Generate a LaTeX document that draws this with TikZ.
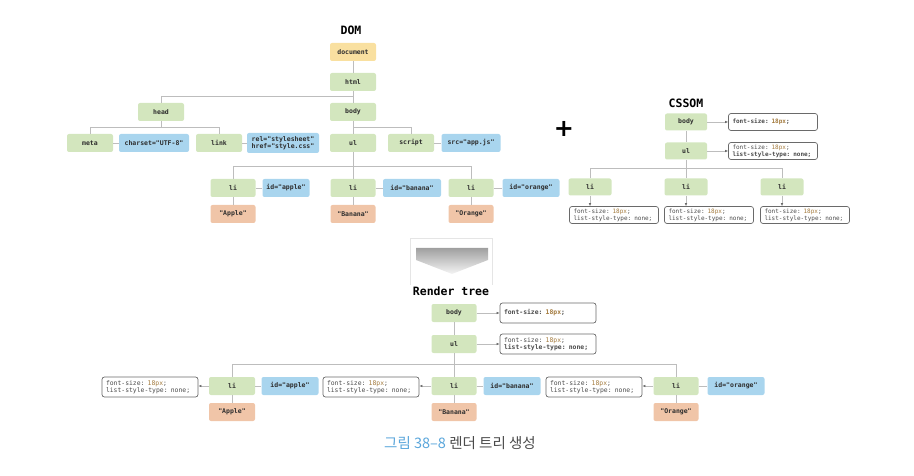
\documentclass[tikz,border=0pt]{standalone}
\usepackage{fontspec}
\setmonofont{DejaVu Sans Mono}
\newfontfamily\krfont{Noto Sans CJK KR}
\newfontfamily\plusfont{DejaVu Sans}
\usetikzlibrary{arrows.meta,calc}
\definecolor{elgreen}{HTML}{D3E6BE}
\definecolor{docyellow}{HTML}{F9E0A0}
\definecolor{attrblue}{HTML}{A9D5EE}
\definecolor{txtorange}{HTML}{F0C5A8}
\definecolor{linegray}{HTML}{BDBDBD}
\definecolor{boxborder}{HTML}{6A6A6A}
\definecolor{pxbrown}{HTML}{A47B3E}
\definecolor{nodetext}{HTML}{2E2E2E}
\definecolor{captblue}{HTML}{5AA6DB}
\definecolor{captgray}{HTML}{4A4A4A}
\newcommand\pxv[1]{{\color{pxbrown}#1}}
\tikzset{
  base/.style={rounded corners=2pt, inner sep=0pt, minimum height=18pt, text=nodetext,
    font=\ttfamily\bfseries\fontsize{6.5}{7.5}\selectfont, align=center},
  el/.style={base, fill=elgreen, minimum width=46pt},
  docnode/.style={base, fill=docyellow, minimum width=46pt},
  attr/.style={base, fill=attrblue},
  txt/.style={base, fill=txtorange, minimum width=46pt},
  title/.style={font=\ttfamily\bfseries\fontsize{11.5}{12}\selectfont, text=black, inner sep=0pt},
  sbox/.style={draw=boxborder, line width=0.7pt, rounded corners=2.5pt, fill=white,
    align=left, inner xsep=4pt, inner ysep=0pt, text=captgray},
  cbox/.style={sbox, text width=81pt, minimum height=17pt, font=\ttfamily\fontsize{6}{6.8}\selectfont},
  rbox/.style={sbox, text width=88pt, minimum height=20pt, font=\ttfamily\fontsize{6.4}{7.3}\selectfont},
  tline/.style={draw=linegray, line width=0.8pt},
  arr/.style={draw=linegray, line width=0.8pt, -{Latex[length=3pt,width=2.6pt,color=boxborder]}},
}
\begin{document}
\begin{tikzpicture}[x=1pt,y=-1pt]
\useasboundingbox (0,0) rectangle (914,476);

% ---------- DOM ----------
\node[title] (domtitle) at (351,30) {DOM};
\node[docnode] (doc) at (353,52) {document};
\node[el] (html) at (353,82) {html};
\node[el] (head) at (161,112) {head};
\node[el] (body) at (353,112) {body};
\node[el] (meta) at (90,143) {meta};
\node[attr, minimum width=70pt] (charset) at (154,143) {charset="UTF-8"};
\node[el] (link) at (219,143) {link};
\node[attr, minimum width=72pt, minimum height=20pt, font=\ttfamily\bfseries\fontsize{6.5}{7.2}\selectfont] (rel) at (283,143) {rel="stylesheet"\\href="style.css"};
\node[el] (ul) at (353,143) {ul};
\node[el] (script) at (411,143) {script};
\node[attr, minimum width=59pt] (src) at (471,143) {src="app.js"};
\node[el, minimum width=45pt] (li1) at (233,188) {li};
\node[attr, minimum width=47pt] (id1) at (286,188) {id="apple"};
\node[el, minimum width=45pt] (li2) at (353,188) {li};
\node[attr, minimum width=58pt] (id2) at (412,188) {id="banana"};
\node[el, minimum width=45pt] (li3) at (471,188) {li};
\node[attr, minimum width=57pt] (id3) at (531,188) {id="orange"};
\node[txt, minimum width=45pt] (t1) at (233,214) {"Apple"};
\node[txt, minimum width=45pt] (t2) at (353,214) {"Banana"};
\node[txt, minimum width=45pt] (t3) at (471,214) {"Orange"};

\draw[tline] (doc.south) -- (html.north);
\draw[tline] (html.south) -- (body.north);
\draw[tline] (head.north) -- ++(0,6pt) -| (html.south);
\draw[tline] (meta.north) -- ++(0,6pt) -| (link.north);
\draw[tline] (head.south) -- ([yshift=6pt]head.south |- meta.north);
\draw[tline] (meta.east) -- (charset.west);
\draw[tline] (link.east) -- (rel.west);
\draw[tline] (body.south) -- (ul.north);
\draw[tline] (ul.north) -- ++(0,6pt) -| (script.north);
\draw[tline] (script.east) -- (src.west);
\draw[tline] (ul.south) -- (li2.north);
\draw[tline] (li1.north) -- ++(0,12pt) -| (li3.north);
\draw[tline] (li1.east) -- (id1.west);
\draw[tline] (li2.east) -- (id2.west);
\draw[tline] (li3.east) -- (id3.west);
\draw[tline] (li1.south) -- (t1.north);
\draw[tline] (li2.south) -- (t2.north);
\draw[tline] (li3.south) -- (t3.north);

% ---------- plus ----------
\node[inner sep=0pt, font=\plusfont\bfseries\fontsize{24}{24}\selectfont] (plus) at (564,129) {+};

% ---------- CSSOM ----------
\node[title] (csstitle) at (686,103) {CSSOM};
\node[el, minimum width=42pt, minimum height=17pt] (cbody) at (686,122) {body};
\node[cbox] (cb0) at (773,122) {\textbf{font-size: \pxv{18px};}};
\node[el, minimum width=42pt, minimum height=17pt] (cul) at (686,151) {ul};
\node[cbox] (cb1) at (773,151) {font-size: \pxv{18px};\\\textbf{list-style-type: none;}};
\node[el, minimum width=43pt, minimum height=17pt] (cli1) at (590,187) {li};
\node[el, minimum width=43pt, minimum height=17pt] (cli2) at (686,187) {li};
\node[el, minimum width=43pt, minimum height=17pt] (cli3) at (782,187) {li};
\node[cbox] (cs1) at (614,215) {font-size: \pxv{18px};\\list-style-type: none;};
\node[cbox] (cs2) at (709,215) {font-size: \pxv{18px};\\list-style-type: none;};
\node[cbox] (cs3) at (805,215) {font-size: \pxv{18px};\\list-style-type: none;};

\draw[arr] (cbody.east) -- (cb0.west);
\draw[arr] (cul.east) -- (cb1.west);
\draw[tline] (cbody.south) -- (cul.north);
\draw[tline] (cul.south) -- (cli2.north);
\draw[tline] (cli1.north) -- ++(0,10pt) -| (cli3.north);
\draw[arr] (cli1.south) -- (cli1.south |- cs1.north);
\draw[arr] (cli2.south) -- (cli2.south |- cs2.north);
\draw[arr] (cli3.south) -- (cli3.south |- cs3.north);

% ---------- big arrow ----------
\draw[draw=gray!20, line width=0.4pt] (410,285) -- (410,238) -- (492,238) -- (492,285);
\shade[top color=gray!75, bottom color=gray!8] (416,248) -- (488,248) -- (488,260) -- (452,274) -- (416,260) -- cycle;

% ---------- Render tree ----------
\node[title] (rtitle) at (451,291) {Render tree};
\node[el, minimum width=45pt] (rbody) at (454,313) {body};
\node[rbox] (rb0) at (548,313) {\textbf{font-size: \pxv{18px};}};
\node[el, minimum width=45pt] (rul) at (454,344) {ul};
\node[rbox] (rb1) at (548,344) {font-size: \pxv{18px};\\\textbf{list-style-type: none;}};
\node[el, minimum width=46pt] (rli1) at (232,386) {li};
\node[attr, minimum width=57pt] (rid1) at (290,386) {id="apple"};
\node[rbox] (rs1) at (150,387) {font-size: \pxv{18px};\\list-style-type: none;};
\node[el, minimum width=45pt] (rli2) at (454,386) {li};
\node[attr, minimum width=57pt] (rid2) at (512,386) {id="banana"};
\node[rbox] (rs2) at (371,387) {font-size: \pxv{18px};\\list-style-type: none;};
\node[el, minimum width=45pt] (rli3) at (676,386) {li};
\node[attr, minimum width=57pt] (rid3) at (736,386) {id="orange"};
\node[rbox] (rs3) at (594,387) {font-size: \pxv{18px};\\list-style-type: none;};
\node[txt, minimum width=46pt] (rt1) at (232,412) {"Apple"};
\node[txt, minimum width=45pt] (rt2) at (454,412) {"Banana"};
\node[txt, minimum width=45pt] (rt3) at (676,412) {"Orange"};

\draw[arr] (rbody.east) -- (rb0.west);
\draw[arr] (rul.east) -- (rb1.west);
\draw[tline] (rbody.south) -- (rul.north);
\draw[tline] (rul.south) -- (rli2.north);
\draw[tline] (rli1.north) -- ++(0,12pt) -| (rli3.north);
\draw[tline] (rli1.east) -- (rid1.west);
\draw[tline] (rli2.east) -- (rid2.west);
\draw[tline] (rli3.east) -- (rid3.west);
\draw[tline] (rli1.south) -- (rt1.north);
\draw[tline] (rli2.south) -- (rt2.north);
\draw[tline] (rli3.south) -- (rt3.north);
\draw[arr] (rli1.west) -- (rli1.west -| rs1.east);
\draw[arr] (rli2.west) -- (rli2.west -| rs2.east);
\draw[arr] (rli3.west) -- (rli3.west -| rs3.east);

% ---------- caption ----------
\node[inner sep=0pt, font=\krfont\fontsize{14.5}{15.5}\selectfont] (caption) at (460,443)
  {{\color{captblue}그림 38–8}\ {\color{captgray}렌더 트리 생성}};
\end{tikzpicture}
\end{document}
